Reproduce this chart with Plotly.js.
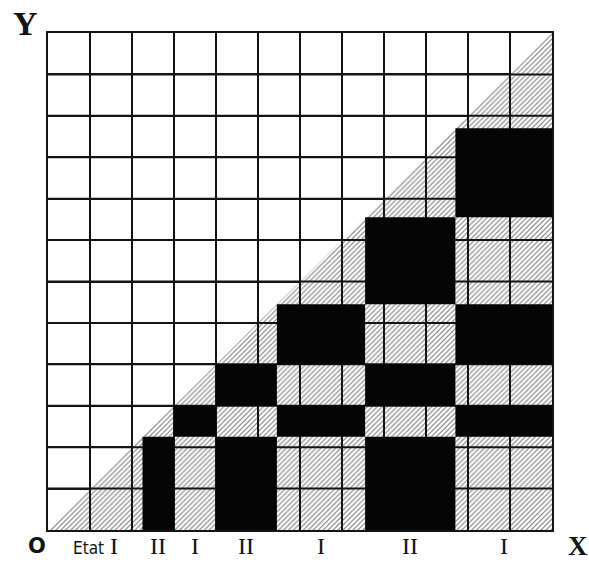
<!DOCTYPE html>
<html><head><meta charset="utf-8">
<script src="https://cdn.plot.ly/plotly-3.0.1.min.js"></script>
<style>body{margin:0;background:#fff}</style>
</head><body>
<div id="chart" style="width:589px;height:562px"></div>
<script>
// Interval boundaries along both axes (same scale, diagonal y = x)
const bounds = [0, 2.25, 3, 4, 5.45, 7.55, 9.7, 12];
// State of each interval
const states = ["I", "II", "I", "II", "I", "II", "I"];
// Labels under each interval
const tickLabels = ["<span style='font-family:DejaVu Sans Condensed;font-size:17px'>Etat</span> I", "II", "I", "II", "I", "II", "I"];
const gridMax = 12;

const centers = [];
for (let i = 0; i < states.length; i++) centers.push((bounds[i] + bounds[i + 1]) / 2);

// Hatched lower triangle (below the diagonal)
const triangle = {
  type: 'scatter',
  x: [0, gridMax, gridMax, 0],
  y: [0, 0, gridMax, 0],
  mode: 'none',
  fill: 'toself',
  fillcolor: 'rgba(0,0,0,0)',
  fillpattern: { shape: '/', fgcolor: '#8c8c8c', bgcolor: '#ffffff', size: 3.5, solidity: 0.35 },
  hoverinfo: 'skip',
  showlegend: false
};

const ink = '#141414';
const shapes = [];
// Grid lines drawn over the hatching
for (let k = 1; k < gridMax; k++) {
  shapes.push({ type: 'line', xref: 'x', yref: 'y', x0: k, x1: k, y0: 0, y1: gridMax, line: { color: ink, width: 2 }, layer: 'above' });
  shapes.push({ type: 'line', xref: 'x', yref: 'y', x0: 0, x1: gridMax, y0: k, y1: k, line: { color: ink, width: 2 }, layer: 'above' });
}
// Black cells: below diagonal where x-state differs from y-state
for (let i = 0; i < states.length; i++) {
  for (let j = 0; j < i; j++) {
    if (states[i] !== states[j]) {
      shapes.push({
        type: 'rect', xref: 'x', yref: 'y',
        x0: bounds[i], x1: bounds[i + 1], y0: bounds[j], y1: bounds[j + 1],
        fillcolor: '#050505', line: { width: 0 }, layer: 'above'
      });
    }
  }
}

const serif = 'Liberation Serif, DejaVu Serif, serif';

const annotations = [
  { text: '<b>Y</b>', xref: 'paper', yref: 'paper', x: -0.044, y: 1.02, showarrow: false,
    font: { family: serif, size: 34, color: ink }, xanchor: 'center', yanchor: 'middle' },
  { text: '<b>O</b>', xref: 'paper', yref: 'paper', x: -0.022, y: -0.032, showarrow: false,
    font: { family: 'DejaVu Sans', size: 21, color: ink }, xanchor: 'center', yanchor: 'middle' },
  { text: '<b>X</b>', xref: 'paper', yref: 'paper', x: 1.052, y: -0.032, showarrow: false,
    font: { family: serif, size: 27, color: ink }, xanchor: 'center', yanchor: 'middle' }
];
for (let i = 0; i < centers.length; i++) {
  annotations.push({ text: tickLabels[i], xref: 'x', yref: 'paper', x: centers[i], y: -0.032,
    showarrow: false, font: { family: serif, size: 24, color: ink }, xanchor: 'center', yanchor: 'middle' });
}

const layout = {
  width: 589, height: 562,
  margin: { l: 48, r: 37, t: 33, b: 32 },
  paper_bgcolor: '#fff', plot_bgcolor: '#fff',
  showlegend: false,
  xaxis: {
    range: [0, gridMax], zeroline: false,
    tick0: 0, dtick: 1, showgrid: true, gridcolor: ink, gridwidth: 2,
    showticklabels: false, ticks: '',
    showline: true, mirror: true, linecolor: ink, linewidth: 2
  },
  yaxis: {
    range: [0, gridMax], zeroline: false,
    tick0: 0, dtick: 1, showgrid: true, gridcolor: ink, gridwidth: 2,
    showticklabels: false, ticks: '',
    showline: true, mirror: true, linecolor: ink, linewidth: 2
  },
  shapes: shapes,
  annotations: annotations
};

Plotly.newPlot('chart', [triangle], layout, { displayModeBar: false, staticPlot: true });
</script>
</body></html>
